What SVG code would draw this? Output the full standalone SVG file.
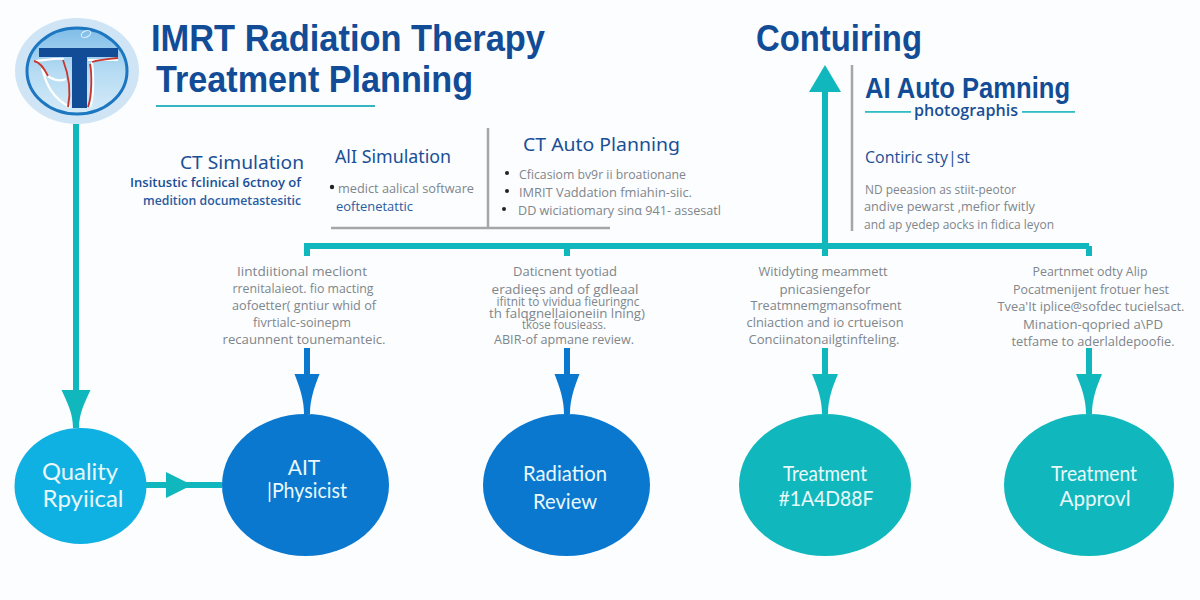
<svg xmlns="http://www.w3.org/2000/svg" width="1200" height="600" viewBox="0 0 1200 600">
<style>
text{font-family:"Open Sans","Noto Sans","Liberation Sans",sans-serif}
.title{font-family:"Liberation Sans",Arial,sans-serif;font-size:36px;font-weight:700;fill:#134c96}
.h{font-family:"Noto Sans","Liberation Sans",sans-serif;font-size:18px;fill:#1a4f96}
.b{font-size:13.500px;fill:#7f868c}
.m{text-anchor:middle}
.e{text-anchor:end}
.n{font-family:Lato,"Liberation Sans",sans-serif;font-size:21px;fill:#e9f8fb;text-anchor:middle}
.q{font-size:24px}
.conn{fill:none;stroke-width:6}
.teal{stroke:#10b8bd}
.blue{stroke:#0a78cf}
.rule{stroke:#a3a7aa;stroke-width:2.5;fill:none}
.red{fill:none;stroke:#c8352e;stroke-width:1.800}
.wht{fill:none;stroke:#fff;stroke-width:2.200}
</style>
<defs>
<linearGradient id="lens" x1="0" y1="0" x2="0" y2="1"><stop offset="0" stop-color="#7fbde8"/><stop offset="0.5" stop-color="#b5dbf3"/><stop offset="1" stop-color="#d5ebf8"/></linearGradient>
<marker id="hTeal" markerUnits="userSpaceOnUse" markerWidth="42" markerHeight="30" viewBox="0 -15 42 30" refX="40" refY="0" orient="auto"><path d="M0-13C14-7 26-3 40-3V3C26 3 14 7 0 13Z" fill="#10b8bd"/></marker>
<marker id="hBlue" markerUnits="userSpaceOnUse" markerWidth="42" markerHeight="30" viewBox="0 -15 42 30" refX="40" refY="0" orient="auto"><path d="M0-12.500C14-7 26-3 40-3V3C26 3 14 7 0 12.500Z" fill="#0a78cf"/></marker>
<marker id="hWide" markerUnits="userSpaceOnUse" markerWidth="40" markerHeight="32" viewBox="0 -16 40 32" refX="38" refY="0" orient="auto"><path d="M0-14.500C14-8 24-3 38-3V3C24 3 14 8 0 14.500Z" fill="#10b8bd"/></marker>
<marker id="hTri" markerUnits="userSpaceOnUse" markerWidth="30" markerHeight="34" viewBox="0 -17 30 34" refX="0" refY="0" orient="auto"><path d="M0-16L27 0L0 16Z" fill="#10b8bd"/></marker>
<marker id="hMid" markerUnits="userSpaceOnUse" markerWidth="28" markerHeight="28" viewBox="0 -14 28 28" refX="26" refY="0" orient="auto"><path d="M0-13L26 0L0 13Z" fill="#10b8bd"/></marker>
</defs>
<rect width="1200" height="600" fill="#fbfdfe"/>

<g id="logo">
<ellipse cx="77" cy="71" rx="62" ry="53" fill="#cfe5f5"/>
<ellipse cx="77" cy="71" rx="50" ry="43" fill="url(#lens)" stroke="#1c76c0" stroke-width="3"/>
<ellipse cx="86" cy="34" rx="5" ry="3" fill="none" stroke="#e6f4fc" stroke-width="1" transform="rotate(-25 86 34)"/>
<path class="wht" d="M36 61C46 60 60 58 64 59M44 72C50 80 60 82 66 79M42 68C46 84 52 98 70 107M88 60H118M92 62C94 82 94 96 90 107"/>
<path class="red" d="M34 61C40 62 44 68 48 76M63 60C70 78 71 92 68 107M90 64C92 74 92 96 88 107M92 62C102 59 110 59 118 58"/>
<path d="M39 48H118V57H87V108H72V57H39Z" fill="#134c96"/>
</g>

<g id="title">
<text class="title" x="151" y="51" textLength="394" lengthAdjust="spacingAndGlyphs">IMRT Radiation Therapy</text>
<text class="title" x="156" y="92" textLength="317" lengthAdjust="spacingAndGlyphs">Treatment Planning</text>
<rect x="156" y="105" width="219" height="2" fill="#36b5c0"/>
</g>

<g id="ct-simulation">
<text class="h e" x="304" y="169" textLength="124" lengthAdjust="spacingAndGlyphs">CT Simulation</text>
<text class="e" x="301" y="187" font-size="13" font-weight="600" fill="#1a4f96" textLength="171" lengthAdjust="spacingAndGlyphs">Insitustic fclinical 6ctnoy of</text>
<text class="e" x="301" y="205" font-size="13" font-weight="600" fill="#2a5ca0" textLength="158" lengthAdjust="spacingAndGlyphs">medition documetastesitic</text>
</g>

<g id="ai-simulation">
<text class="h" x="335" y="163" textLength="116" lengthAdjust="spacingAndGlyphs">AlI Simulation</text>
<circle cx="332" cy="187" r="2.200" fill="#222"/>
<text class="b" x="338" y="193" textLength="136" lengthAdjust="spacingAndGlyphs">medict aalical software</text>
<text x="336" y="211" font-size="13" fill="#2a5ca0" textLength="77" lengthAdjust="spacingAndGlyphs">eoftenetattic</text>
</g>

<g id="ct-auto-planning">
<path class="rule" d="M488 128V228M331 228H610"/>
<text class="h" x="523" y="151" textLength="157" lengthAdjust="spacingAndGlyphs">CT Auto Planning</text>
<circle cx="507" cy="173" r="2" fill="#222"/>
<text class="b" x="519" y="179" textLength="167" lengthAdjust="spacingAndGlyphs">Cficasiom bv9r ii broationane</text>
<circle cx="507" cy="191" r="2" fill="#222"/>
<text class="b" x="519" y="197" textLength="173" lengthAdjust="spacingAndGlyphs">IMRIT Vaddation fmiahin-siic.</text>
<circle cx="504" cy="209" r="2" fill="#222"/>
<text class="b" x="518" y="215" textLength="203" lengthAdjust="spacingAndGlyphs">DD wiciatiomary sinα 941- assesatl</text>
</g>

<g id="contouring">
<text x="756" y="51" style="font-family:'Liberation Sans',Arial,sans-serif" font-size="36" font-weight="700" fill="#134c96" textLength="166" lengthAdjust="spacingAndGlyphs">Contuiring</text>
</g>

<g id="ai-auto-planning">
<path class="rule" d="M852 65V231"/>
<text x="865" y="98" style="font-family:'Liberation Sans',Arial,sans-serif" font-size="29" font-weight="700" fill="#134c96" textLength="205" lengthAdjust="spacingAndGlyphs">AI Auto Pamning</text>
<rect x="865" y="111" width="46" height="1.800" fill="#2fbcc4"/>
<rect x="1022" y="111" width="53" height="1.800" fill="#2fbcc4"/>
<text class="m" x="966" y="116" font-size="17" font-weight="600" fill="#1a4f96" textLength="104" lengthAdjust="spacingAndGlyphs">photographis</text>
<text x="865" y="163" font-size="16" fill="#1a4f96" textLength="105" lengthAdjust="spacingAndGlyphs">Contiric sty|st</text>
<text class="b" x="865" y="194" textLength="151" lengthAdjust="spacingAndGlyphs">ND peeasion as stiit-peotor</text>
<text class="b" x="864" y="211" textLength="171" lengthAdjust="spacingAndGlyphs">andive pewarst ,mefior fwitly</text>
<text class="b" x="864" y="229" textLength="190" lengthAdjust="spacingAndGlyphs">and ap yedep aocks in fidica leyon</text>
</g>

<g id="desc-1">
<text class="b m" x="302" y="276" textLength="130" lengthAdjust="spacingAndGlyphs">Iintdiitional mecliont</text>
<text class="b m" x="303" y="293" textLength="141" lengthAdjust="spacingAndGlyphs">rrenitalaieot. fio macting</text>
<text class="b m" x="304" y="310" textLength="144" lengthAdjust="spacingAndGlyphs">aofoetter( gntiur whid of</text>
<text class="b m" x="302" y="327" textLength="98" lengthAdjust="spacingAndGlyphs">fivrtialc-soinepm</text>
<text class="b m" x="304" y="344" textLength="163" lengthAdjust="spacingAndGlyphs">recaunnent tounemanteic.</text>
</g>
<g id="desc-2">
<text class="b m" x="565" y="276" textLength="104" lengthAdjust="spacingAndGlyphs">Daticnent tyotiad</text>
<text class="b m" x="565" y="294" textLength="147" lengthAdjust="spacingAndGlyphs">eradieęs and of gdleaal</text>
<text class="b m" x="568" y="306" textLength="143" lengthAdjust="spacingAndGlyphs">ifitnit to vividua fieuringnc</text>
<text class="b m" x="567" y="318" textLength="156" lengthAdjust="spacingAndGlyphs">th falqgnellaioneiin lning)</text>
<text class="b m" x="564" y="329" style="font-size:12px" textLength="84" lengthAdjust="spacingAndGlyphs">tkose fousieass.</text>
<text class="b m" x="564" y="344" textLength="140" lengthAdjust="spacingAndGlyphs">ABIR-of apmane review.</text>
</g>
<g id="desc-3">
<text class="b m" x="823" y="276" textLength="129" lengthAdjust="spacingAndGlyphs">Witidyting meammett</text>
<text class="b m" x="825" y="294" textLength="91" lengthAdjust="spacingAndGlyphs">pnicasiengefor</text>
<text class="b m" x="826" y="310" textLength="151" lengthAdjust="spacingAndGlyphs">Treatmnemgmansofment</text>
<text class="b m" x="825" y="327" textLength="157" lengthAdjust="spacingAndGlyphs">clniaction and io crtueison</text>
<text class="b m" x="824" y="344" textLength="151" lengthAdjust="spacingAndGlyphs">Conciinatonailgtinfteling.</text>
</g>
<g id="desc-4">
<text class="b m" x="1090" y="276" textLength="115" lengthAdjust="spacingAndGlyphs">Peartnmet odty Alip</text>
<text class="b m" x="1091" y="294" textLength="156" lengthAdjust="spacingAndGlyphs">Pocatmenijent frotuer hest</text>
<text class="b m" x="1091" y="311" textLength="187" lengthAdjust="spacingAndGlyphs">Tvea'It iplice@sofdec tucielsact.</text>
<text class="b m" x="1093" y="329" textLength="140" lengthAdjust="spacingAndGlyphs">Mination-qopried a\PD</text>
<text class="b m" x="1093" y="346" textLength="163" lengthAdjust="spacingAndGlyphs">tetfame to aderlaldepoofie.</text>
</g>

<g id="connectors">
<path class="conn teal" d="M76 124V428" marker-end="url(#hWide)"/>
<path class="conn teal" d="M304 246H1089M307 246V256M567 246V256M825 246V256M1089 246V256"/>
<path class="conn teal" d="M825 246V92" marker-end="url(#hTri)"/>
<path class="conn blue" d="M307 348V414" marker-end="url(#hBlue)"/>
<path class="conn blue" d="M567 348V414" marker-end="url(#hBlue)"/>
<path class="conn teal" d="M825 348V414" marker-end="url(#hTeal)"/>
<path class="conn teal" d="M1089 348V414" marker-end="url(#hTeal)"/>
<polyline class="conn teal" points="146,485 192,485 222,485" marker-mid="url(#hMid)"/>
</g>

<g id="node-quality">
<ellipse cx="80.500" cy="486" rx="66" ry="58" fill="#0fb0e2"/>
<text class="n q" x="80" y="480" textLength="76" lengthAdjust="spacingAndGlyphs">Quality</text>
<text class="n q" x="83" y="507" textLength="81" lengthAdjust="spacingAndGlyphs">Rpyiical</text>
</g>
<g id="node-physicist">
<ellipse cx="305.500" cy="485" rx="83.500" ry="71" fill="#0a78cf"/>
<text class="n" x="304" y="475">AIT</text>
<text class="n" x="307" y="498" textLength="80" lengthAdjust="spacingAndGlyphs">|Physicist</text>
</g>
<g id="node-radiation">
<ellipse cx="566.500" cy="485" rx="83.500" ry="71" fill="#0a78cf"/>
<text class="n" x="565" y="481" textLength="84" lengthAdjust="spacingAndGlyphs">Radiation</text>
<text class="n" x="565" y="509" textLength="64" lengthAdjust="spacingAndGlyphs">Review</text>
</g>
<g id="node-treatment">
<ellipse cx="825" cy="485" rx="86" ry="71" fill="#10b8bd"/>
<text class="n" x="825" y="481" textLength="84" lengthAdjust="spacingAndGlyphs">Treatment</text>
<text class="n" x="826" y="506" textLength="95" lengthAdjust="spacingAndGlyphs">#1A4D88F</text>
</g>
<g id="node-approval">
<ellipse cx="1089" cy="485" rx="85" ry="71" fill="#10b8bd"/>
<text class="n" x="1094" y="481" textLength="86" lengthAdjust="spacingAndGlyphs">Treatment</text>
<text class="n" x="1095" y="506" textLength="71" lengthAdjust="spacingAndGlyphs">Approvl</text>
</g>
</svg>
